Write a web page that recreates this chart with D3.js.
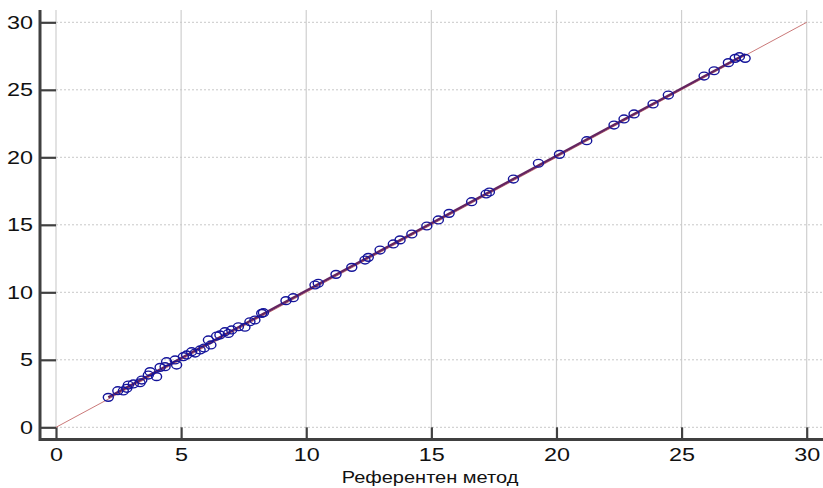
<!DOCTYPE html>
<html>
<head>
<meta charset="utf-8">
<script src="https://cdn.jsdelivr.net/npm/d3@7"></script>
<style>
  body { margin: 0; background: #fff; }
  svg { display: block; font-family: "Liberation Sans", Arial, sans-serif; }
</style>
</head>
<body>
<div id="chart"></div>
<script>
// values
var refValues = [2.09, 2.47, 2.69, 2.83, 2.89, 3.09, 3.36, 3.43, 3.69, 3.76, 4.02, 4.16, 4.36, 4.42,
  4.76, 4.82, 5.09, 5.22, 5.42, 5.56, 5.76, 5.92, 6.09, 6.19, 6.42, 6.55, 6.75, 6.89, 7.02, 7.29,
  7.55, 7.75, 7.95, 8.22, 8.29, 9.19, 9.48, 10.35, 10.48, 11.19, 11.82, 12.35, 12.48, 12.95, 13.48,
  13.75, 14.22, 14.82, 15.28, 15.71, 16.61, 17.19, 17.32, 18.28, 19.28, 20.12, 21.21, 22.30, 22.70,
  23.10, 23.86, 24.47, 25.90, 26.30, 26.87, 27.14, 27.31, 27.54];
var testValues = [2.22, 2.71, 2.69, 2.89, 3.13, 3.21, 3.30, 3.50, 3.87, 4.12, 3.75, 4.44, 4.49, 4.86,
  4.99, 4.61, 5.23, 5.36, 5.60, 5.50, 5.73, 5.87, 6.47, 6.10, 6.76, 6.84, 7.08, 6.95, 7.21, 7.45,
  7.41, 7.82, 7.95, 8.44, 8.49, 9.38, 9.60, 10.54, 10.67, 11.33, 11.85, 12.39, 12.59, 13.13, 13.58,
  13.88, 14.32, 14.91, 15.36, 15.85, 16.71, 17.28, 17.43, 18.39, 19.56, 20.22, 21.23, 22.39, 22.84,
  23.21, 23.95, 24.61, 26.02, 26.41, 27.01, 27.33, 27.45, 27.33];
var xTicks = [0, 5, 10, 15, 20, 25, 30];
var yTicks = [0, 5, 10, 15, 20, 25, 30];
var xTitle = "Референтен метод";

var w = 823, h = 488;
var stretch = 1.3; // reference text is drawn wide

var svg = d3.select("#chart").append("svg")
  .attr("width", w)
  .attr("height", h);

var x = d3.scaleLinear().domain([0, 30]).range([56, 806.7]);
var y = d3.scaleLinear().domain([0, 30]).range([427.3, 22.3]);

var axisX = 40, axisY = 439.5;

// grid
svg.append("g").selectAll("line")
  .data(xTicks)
  .enter().append("line")
  .attr("x1", function(d){ return x(d); })
  .attr("x2", function(d){ return x(d); })
  .attr("y1", 10)
  .attr("y2", y(0))
  .attr("stroke", "#cfcfcf")
  .attr("stroke-width", 1.2);

svg.append("g").selectAll("line")
  .data(yTicks)
  .enter().append("line")
  .attr("x1", x(0))
  .attr("x2", w)
  .attr("y1", function(d){ return y(d); })
  .attr("y2", function(d){ return y(d); })
  .attr("stroke", "#c8c8c8")
  .attr("stroke-width", 1)
  .attr("stroke-dasharray", "2,2");

// axes
var gx = svg.append("g")
  .attr("transform", "translate(0," + axisY + ")")
  .call(d3.axisBottom(x).tickValues(xTicks).tickSize(-(axisY - y(0))).tickPadding(9));
var gy = svg.append("g")
  .attr("transform", "translate(" + axisX + ",0)")
  .call(d3.axisLeft(y).tickValues(yTicks).tickSize(-(x(0) - axisX)).tickPadding(7));

[gx, gy].forEach(function(g){
  g.select(".domain").remove();
  g.selectAll(".tick line").attr("stroke", "#404040").attr("stroke-width", 2.2);
  g.selectAll(".tick text")
    .attr("fill", "#111")
    .style("font-size", "18px")
    .style("font-family", "\"Liberation Sans\", Arial, sans-serif")
    .each(function(){
      var t = d3.select(this);
      var tx = +t.attr("x") || 0, ty = +t.attr("y") || 0;
      t.attr("x", 0).attr("y", 0)
        .attr("transform", "translate(" + tx + "," + ty + ") scale(" + stretch + ",1)");
    });
});

svg.append("line")
  .attr("x1", axisX).attr("x2", axisX)
  .attr("y1", 10).attr("y2", axisY + 1.5)
  .attr("stroke", "#404040").attr("stroke-width", 3);
svg.append("line")
  .attr("x1", axisX).attr("x2", w)
  .attr("y1", axisY).attr("y2", axisY)
  .attr("stroke", "#404040").attr("stroke-width", 3);

// identity line
svg.append("line")
  .attr("x1", x(0)).attr("y1", y(0))
  .attr("x2", x(30)).attr("y2", y(30))
  .attr("stroke", "#c46a6a")
  .attr("stroke-width", 0.9);

// regression line
var n = refValues.length;
var mx = d3.mean(refValues), my = d3.mean(testValues);
var sxy = 0, sxx = 0;
for (var i = 0; i < n; i++) {
  sxy += (refValues[i] - mx) * (testValues[i] - my);
  sxx += (refValues[i] - mx) * (refValues[i] - mx);
}
var slope = sxy / sxx;
var icpt = my - slope * mx;
var x0 = d3.min(refValues), x1 = d3.max(refValues);

svg.append("line")
  .attr("x1", x(x0)).attr("y1", y(icpt + slope * x0))
  .attr("x2", x(x1)).attr("y2", y(icpt + slope * x1))
  .attr("stroke", "#652560")
  .attr("stroke-width", 2.4);

// points
svg.append("g").selectAll("ellipse")
  .data(d3.range(n))
  .enter().append("ellipse")
  .attr("cx", function(i){ return x(refValues[i]); })
  .attr("cy", function(i){ return y(testValues[i]); })
  .attr("rx", 5)
  .attr("ry", 3.9)
  .attr("fill", "none")
  .attr("stroke", "#14149a")
  .attr("stroke-width", 1.4);

// axis title
svg.append("text")
  .attr("transform", "translate(430,483) scale(1.25,1)")
  .attr("text-anchor", "middle")
  .style("font-size", "16px")
  .attr("fill", "#111")
  .text(xTitle);
</script>
</body>
</html>
